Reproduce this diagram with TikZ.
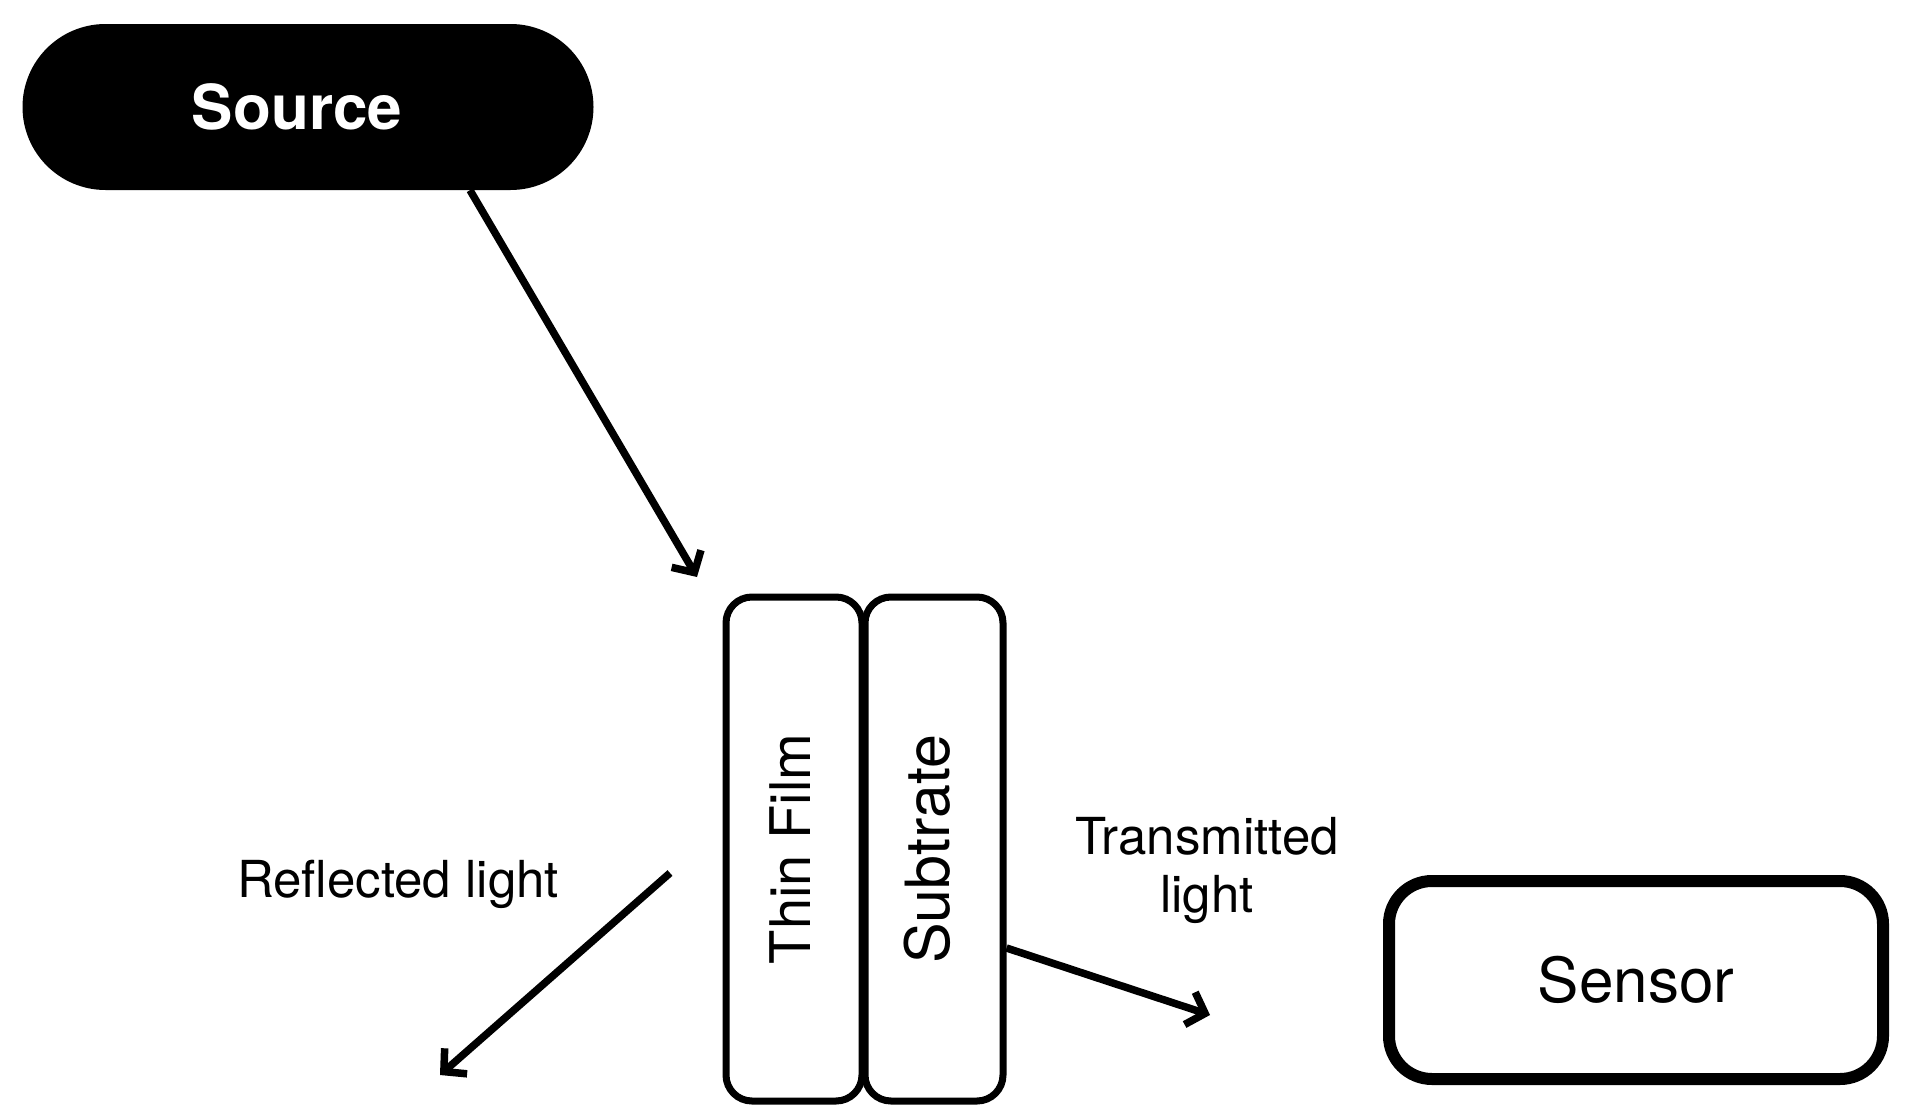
\documentclass[tikz,border=0pt]{standalone}
\usepackage{fontspec}
\setmainfont{TeX Gyre Heros}
\usetikzlibrary{arrows.meta,calc}
\tikzset{
  lay/.style={draw=black,line width=7pt,rounded corners=26pt,minimum width=136pt,minimum height=504pt,inner sep=0pt,font=\fontsize{56}{60}\selectfont},
  ray/.style={line width=7.5pt,-{Straight Barb[length=16pt,width=34pt,line width=7.5pt]}},
  lbl/.style={font=\fontsize{51}{58}\selectfont,align=center,inner sep=0pt}
}
\begin{document}
\begin{tikzpicture}[x=1pt,y=-1pt]
\useasboundingbox[fill=white] (0,0) rectangle (1909,1119);
\node[fill=black,rounded corners=83pt,minimum width=571pt,minimum height=166pt,inner sep=0pt,text=white,font=\fontsize{62}{66}\selectfont\bfseries] (src) at (308,107) {\hspace*{-22pt}Source};
\node[lay] (film) at (794,849) {\hspace*{-8pt}\rotatebox{90}{Thin Film}};
\node[lay,minimum width=138pt] (sub) at (934,849) {\hspace*{-14pt}\rotatebox{90}{\fontsize{61}{64}\selectfont Subtrate}};
\node[draw=black,line width=12pt,rounded corners=43pt,minimum width=494pt,minimum height=198pt,inner sep=0pt,font=\fontsize{62}{66}\selectfont] (sen) at (1636,980) {Sensor};
\coordinate (hit) at (697,577);
\coordinate (rs) at (670,873);
\coordinate (re) at (440,1075);
\coordinate (te) at (1210,1015);
\draw[ray] ([xshift=162pt]src.south) -- (hit);
\draw[ray] (rs) -- (re);
\draw[ray] ([yshift=-99pt]sub.east) -- (te);
\node[lbl] (rl) at (398,884) {Reflected light};
\node[lbl] (tl) at (1207,870) {Transmitted\\light};
\end{tikzpicture}
\end{document}
